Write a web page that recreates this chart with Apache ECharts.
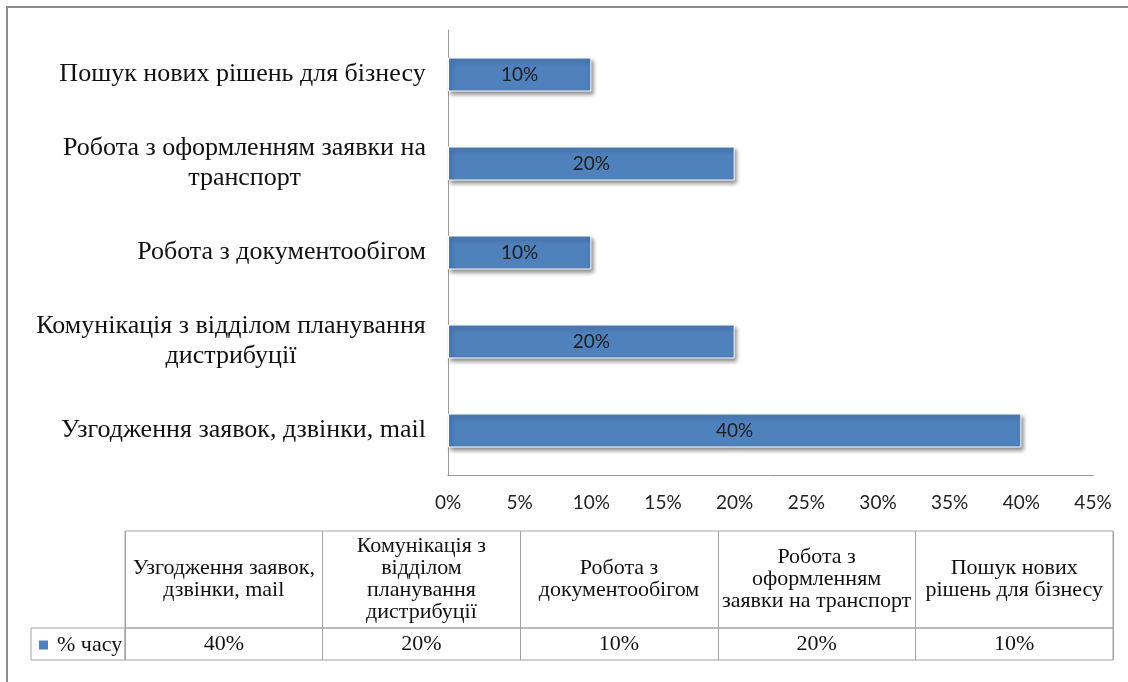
<!DOCTYPE html>
<html>
<head>
<meta charset="utf-8">
<script src="https://cdn.jsdelivr.net/npm/echarts@6/dist/echarts.min.js"></script>
<style>
  html, body { margin: 0; padding: 0; background: #fff; }
  #wrap { position: relative; width: 1128px; height: 682px; overflow: hidden; }
  #frame { position: absolute; left: 6px; top: 6px; width: 1200px; height: 800px; border-left: 2px solid #8c8c8c; border-top: 2px solid #8c8c8c; }
  #chart { position: absolute; left: 0; top: 0; width: 1128px; height: 682px; }
</style>
</head>
<body>
<div id="wrap"><div id="frame"></div><div id="chart"></div></div>
<script>
// ---- data ----
const seriesName = '% часу';
const categories = [
  'Узгодження заявок, дзвінки, mail',
  'Комунікація з відділом планування\nдистрибуції',
  'Робота з документообігом',
  'Робота з оформленням заявки на\nтранспорт',
  'Пошук нових рішень для бізнесу'
];
const tableHeaders = [
  'Узгодження заявок,\nдзвінки, mail',
  'Комунікація з\nвідділом\nпланування\nдистрибуції',
  'Робота з\nдокументообігом',
  'Робота з\nоформленням\nзаявки на транспорт',
  'Пошук нових\nрішень для бізнесу'
];
const values = [40, 20, 10, 20, 10];
const xTicks = ['0%', '5%', '10%', '15%', '20%', '25%', '30%', '35%', '40%', '45%'];

// ---- styles ----
const serif = "'Liberation Serif', 'Times New Roman', serif";
const sans = "Lato, 'Open Sans', sans-serif";
const catFontSize = 26;
const tableFontSize = 22;
const barColor = '#4F81BD';
const lineColor = '#a3a3a3';

const ctx = document.createElement('canvas').getContext('2d');
ctx.font = catFontSize + 'px ' + serif;
const rich = {};
categories.forEach((c, i) => {
  const w = Math.max(...c.split('\n').map(l => ctx.measureText(l).width));
  rich['c' + i] = { width: Math.ceil(w), align: 'center', fontSize: catFontSize, fontFamily: serif, color: '#111', lineHeight: 30 };
});

const chart = echarts.init(document.getElementById('chart'), null, { renderer: 'canvas' });
const option = {
  animation: false,
  legend: {
    data: [{ name: seriesName, itemStyle: { color: barColor, borderWidth: 0, shadowBlur: 0, shadowOffsetX: 0, shadowOffsetY: 0 } }],
    left: 34, top: 629,
    icon: 'rect', itemWidth: 9, itemHeight: 9,
    textStyle: { fontFamily: serif, fontSize: tableFontSize, color: '#111', padding: [0, 0, 0, 4] }
  },
  grid: [
    { left: 448, right: 35, top: 30, bottom: 207 },
    { left: 125, right: 15, top: 531, bottom: 54, show: true, borderColor: lineColor, borderWidth: 1 },
    { left: 125, right: 15, top: 628, bottom: 22, show: true, borderColor: lineColor, borderWidth: 1 },
    { left: 31, width: 94, top: 628, bottom: 22, show: true, borderColor: lineColor, borderWidth: 1 }
  ],
  xAxis: [
    {
      gridIndex: 0, type: 'value', min: 0, max: 45, interval: 5,
      axisLine: { show: true, lineStyle: { color: '#9a9a9a', width: 1 } },
      axisTick: { show: false }, splitLine: { show: false },
      axisLabel: { margin: 18, color: '#222', fontFamily: sans, fontSize: 19,
        formatter: (v) => xTicks[Math.round(v / 5)] }
    },
    {
      gridIndex: 1, type: 'category', data: tableHeaders, position: 'top',
      axisLine: { show: false }, axisTick: { show: false },
      splitLine: { show: true, lineStyle: { color: lineColor, width: 1 } },
      axisLabel: { interval: 0, margin: -48.5, verticalAlign: 'middle', align: 'center',
        fontFamily: serif, fontSize: tableFontSize, lineHeight: 22, color: '#111' }
    },
    {
      gridIndex: 2, type: 'category', data: tableHeaders,
      axisLine: { show: false }, axisTick: { show: false }, axisLabel: { show: false },
      splitLine: { show: true, lineStyle: { color: lineColor, width: 1 } }
    },
    { gridIndex: 3, type: 'value', show: false }
  ],
  yAxis: [
    {
      gridIndex: 0, type: 'category', data: categories,
      axisLine: { show: true, lineStyle: { color: '#9a9a9a', width: 1 } },
      axisTick: { show: false },
      axisLabel: { interval: 0, margin: 22, align: 'right', verticalAlign: 'middle',
        formatter: (v, i) => v.split('\n').map(l => '{c' + i + '|' + l + '}').join('\n'),
        rich: rich }
    },
    { gridIndex: 1, type: 'value', show: false, min: 0, max: 1 },
    { gridIndex: 2, type: 'value', show: false, min: 0, max: 1 },
    { gridIndex: 3, type: 'value', show: false }
  ],
  series: [
    {
      name: seriesName, type: 'bar', xAxisIndex: 0, yAxisIndex: 0,
      data: values, barWidth: 34,
      itemStyle: { color: barColor, borderColor: '#fff', borderWidth: 1,
        shadowColor: 'rgba(0,0,0,0.45)', shadowBlur: 4, shadowOffsetX: 2, shadowOffsetY: 3 },
      label: { show: true, position: 'inside', formatter: (p) => p.value + '%',
        color: '#1e1e1e', fontFamily: sans, fontSize: 19 }
    },
    {
      name: 'table', type: 'scatter', xAxisIndex: 2, yAxisIndex: 2,
      data: values.map((v, i) => [i, 0.5, v]), symbolSize: 0, silent: true,
      itemStyle: { opacity: 1 },
      label: { show: true, position: 'inside', formatter: (p) => p.data[2] + '%',
        color: '#111', opacity: 1, fontFamily: serif, fontSize: tableFontSize }
    }
  ]
};
chart.setOption(option);
</script>
</body>
</html>
